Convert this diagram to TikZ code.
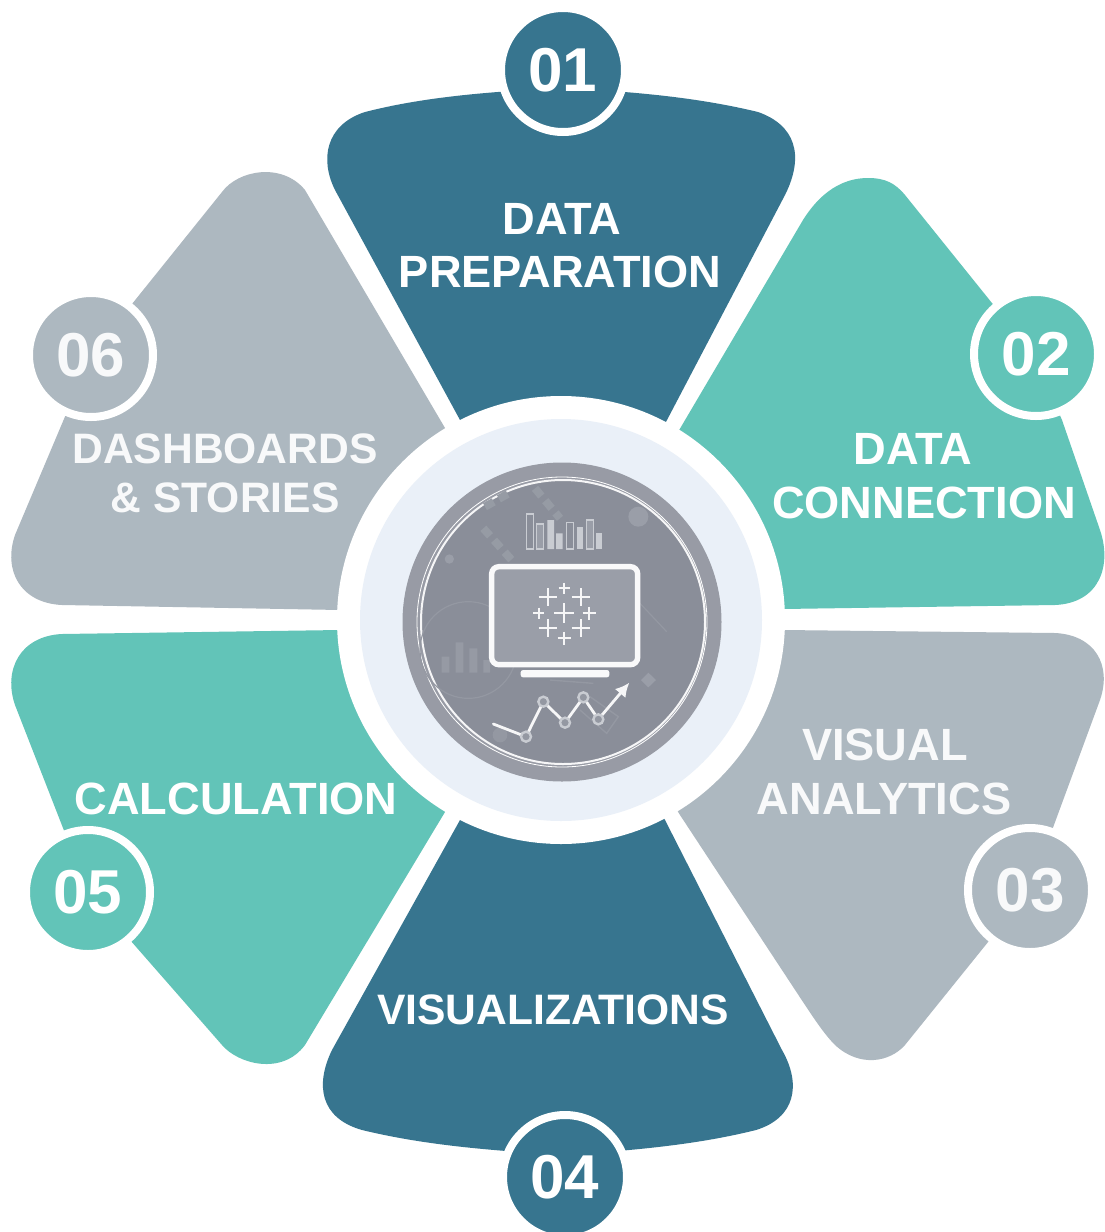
\documentclass[tikz,border=0pt]{standalone}
\usepackage{fontspec}
\setmainfont{Liberation Sans}
\usetikzlibrary{arrows.meta}
\definecolor{cdark}{HTML}{37758F}
\definecolor{cteal}{HTML}{62C4B8}
\definecolor{cgray}{HTML}{ADB8C0}
\definecolor{clight}{HTML}{EAF0F8}
\definecolor{cring}{HTML}{989BA5}
\definecolor{cinner}{HTML}{8A8E99}
\definecolor{cscreen}{HTML}{9A9EA8}
\definecolor{cfaint}{HTML}{9498A2}
\definecolor{cbar}{HTML}{C9CCD2}
\tikzset{
  petaltext/.style={text=white,font=\bfseries\fontsize{22.6}{27}\selectfont,inner sep=0pt},
  softtext/.style={petaltext,text=white!92!cgray},
  tighttext/.style={font=\bfseries\fontsize{21.3}{26}\selectfont},
  numdisc/.style={circle,minimum size=62pt,inner sep=0pt,draw=white,line width=4pt,text=white,font=\bfseries\fontsize{31}{36}\selectfont},
  faint/.style={draw=cfaint,line width=0.5pt},
  iconline/.style={draw=white!92!cinner,line cap=round,line join=round},
  plusmark/.style={draw=white!92!cinner,line width=1.1pt},
}
\newcommand{\plusat}[3]{\draw[plusmark] (#1-#3,#2) -- (#1+#3,#2) (#1,#2-#3) -- (#1,#2+#3);}
\begin{document}
\begin{tikzpicture}[x=0.5pt,y=-0.5pt]
\useasboundingbox (0,0) rectangle (1104,1232);
\fill[white] (0,0) rectangle (1104,1232);
% petals
\fill[cdark] (561,620) -- (460,420) -- (335,190) .. controls (320,160) and (325,125) .. (365,112)
  .. controls (420,98) and (480,92) .. (563,88) .. controls (640,92) and (700,98) .. (758,112)
  .. controls (795,125) and (805,155) .. (785,195) -- (667,420) -- cycle;
\fill[cteal] (561,620) -- (678,432) -- (803,220) .. controls (825,185) and (850,178) .. (868,178)
  .. controls (885,178) and (895,183) .. (905,195) -- (1033,354) -- (1062,420) -- (1100,530)
  .. controls (1112,565) and (1100,603) .. (1055,605) -- (783,609) -- cycle;
\fill[cgray] (561,620) -- (783,630) -- (1055,633) .. controls (1095,635) and (1112,665) .. (1100,700)
  -- (1030,890) -- (905,1045) .. controls (890,1062) and (860,1068) .. (835,1045)
  .. controls (825,1035) and (815,1020) .. (805,1005) -- (680,815) -- cycle;
\fill[cdark] (561,620) -- (460,820) -- (332,1050) .. controls (315,1085) and (320,1118) .. (362,1130)
  .. controls (420,1144) and (480,1150) .. (565,1155) .. controls (640,1150) and (700,1144) .. (756,1130)
  .. controls (795,1118) and (802,1085) .. (782,1050) -- (665,820) -- cycle;
\fill[cteal] (561,620) -- (340,630) -- (62,634) .. controls (20,636) and (3,670) .. (15,705)
  -- (88,892) -- (222,1045) .. controls (238,1064) and (282,1076) .. (305,1045)
  -- (445,812) -- cycle;
\fill[cgray] (561,620) -- (340,610) -- (62,605) .. controls (20,603) and (3,570) .. (15,535)
  -- (91,355) -- (222,192) .. controls (238,170) and (282,162) .. (305,190)
  -- (445,428) -- cycle;
% hub
\fill[white] (561,620) circle (224);
\fill[clight] (561,620) circle (201);
\fill[cring] (562,622) circle (159.5);
\fill[cinner] (562,622) circle (142);
\draw[white,line width=0.4pt] (562,622) circle (145);
\draw[white!92!cinner,line width=1pt] (563,622) circle (142);
% icon, in zoomed units
\begin{scope}[shift={(390,450)},x=0.16667pt,y=-0.16667pt]
  % faint background
  \draw[faint,line width=0.6pt] (235,600) circle (145);
  \fill[cfaint!70!cscreen] (155,620) rectangle (178,668) (197,577) rectangle (220,668) (238,595) rectangle (262,668) (280,630) rectangle (300,668);
  \draw[cfaint!60!cscreen,line width=4pt,dash pattern=on 5pt off 3pt] (285,170) -- (365,125) (435,115) -- (510,205) (280,235) -- (365,330);
  \fill[cscreen] (745,200) circle (30);
  \fill[cscreen] (178,327) circle (14);
  \fill[cscreen] (775,668) -- (798,690) -- (775,712) -- (753,690) -- cycle;
  \draw[faint,line width=0.6pt] (750,460) -- (830,545);
  \draw[faint,line width=0.7pt] (480,690) -- (610,700) (600,740) -- (685,800) -- (650,850) -- (570,780);
  \fill[cfaint] (330,855) circle (22);
  % bars
  \draw[cbar,line width=0.6pt,fill=cinner] (410,192) rectangle (430,297);
  \draw[cbar,line width=0.6pt,fill=cscreen] (440,222) rectangle (460,297);
  \fill[cbar] (472,210) rectangle (492,297) (498,250) rectangle (518,297);
  \draw[cbar,line width=0.6pt,fill=cinner] (530,218) rectangle (550,297);
  \fill[cbar] (560,230) rectangle (580,297);
  \draw[cbar,line width=0.6pt,fill=cscreen] (590,210) rectangle (610,297);
  \fill[cbar] (617,250) rectangle (637,297);
  % monitor
  \draw[white!95!cinner,line width=2.7pt,fill=cscreen,rounded corners=3.6pt] (305,350) rectangle (743,644);
  \fill[white!95!cinner,rounded corners=1.2pt] (392,660) rectangle (658,682);
  % logo
  \plusat{523}{490}{30}
  \plusat{523}{415}{17}
  \plusat{523}{565}{20}
  \plusat{473}{442}{27}
  \plusat{572}{442}{27}
  \plusat{473}{535}{27}
  \plusat{572}{535}{27}
  \plusat{446}{490}{17}
  \plusat{598}{490}{20}
  % trend line
  \draw[iconline,line width=1.4pt,-{Latex[length=7pt,width=7pt]}] (310,822) -- (408,860) -- (460,755) -- (525,818) -- (580,742) -- (625,808) -- (718,698);
  \foreach \px/\py in {408/860,460/755,525/818,580/742,625/808}
    \draw[cbar,line width=1.2pt,fill=cfaint] (\px,\py) circle (15);
\end{scope}
% number discs
\node[numdisc,fill=cdark] (n01) at (563,70) {01};
\node[numdisc,fill=cteal] (n02) at (1036,354) {02};
\node[numdisc,fill=cgray,text=white!92!cgray] (n03) at (1030,890) {03};
\node[numdisc,fill=cdark] (n04) at (565,1177) {04};
\node[numdisc,fill=cteal] (n05) at (88,892) {05};
\node[numdisc,fill=cgray,text=white!92!cgray] (n06) at (91,355) {06};
% labels
\node[petaltext] (t1a) at (562,219) {DATA};
\node[petaltext] (t1b) at (560,272) {PREPARATION};
\node[petaltext] (t2a) at (913,449) {DATA};
\node[petaltext] (t2b) at (924,503) {CONNECTION};
\node[softtext] (t3a) at (885,745) {VISUAL};
\node[softtext] (t3b) at (884,799) {ANALYTICS};
\node[petaltext,tighttext] (t4) at (553,1010) {VISUALIZATIONS};
\node[petaltext] (t5) at (236,799) {CALCULATION};
\node[softtext,tighttext] (t6a) at (225,449) {DASHBOARDS};
\node[softtext,tighttext] (t6b) at (225,498) {\&~STORIES};
\end{tikzpicture}
\end{document}
